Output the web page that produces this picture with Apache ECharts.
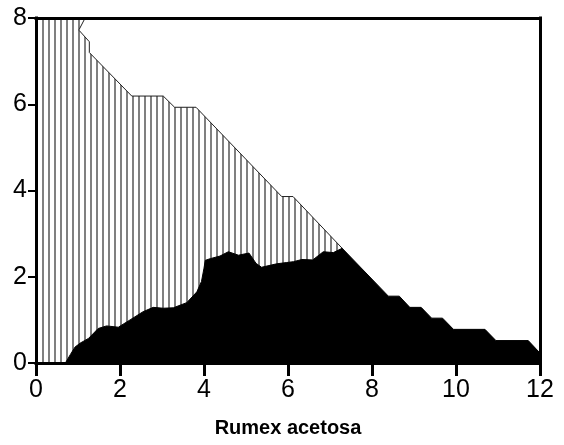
<!DOCTYPE html>
<html>
<head>
<meta charset="utf-8">
<script src="https://cdn.jsdelivr.net/npm/echarts@6/dist/echarts.min.js"></script>
<style>
  html, body { margin: 0; padding: 0; background: #fff; }
  #chart { width: 564px; height: 445px; }
</style>
</head>
<body>
<div id="chart"></div>
<script>
// Axis ranges and tick steps
const xRange = [0, 12];
const xStep = 2;
const yRange = [0, 8];
const yStep = 2;
const xTitle = 'Rumex acetosa';

// Upper boundary of the hatched band (x, y)
const hatchX = [0, 1.17, 1.02, 1.27, 1.27, 2.28, 3.03, 3.30, 3.81, 5.85, 6.12, 7.29];
const hatchY = [8, 8, 7.72, 7.45, 7.20, 6.19, 6.19, 5.93, 5.93, 3.86, 3.86, 2.66];

// Solid (black) profile (x, y)
const rumexX = [0, 0.70, 0.82, 0.93, 1.05, 1.25, 1.48, 1.68, 1.96, 2.24, 2.55, 2.79, 3.03, 3.27,
  3.59, 3.83, 3.94, 4.00, 4.03, 4.15, 4.38, 4.58, 4.82, 5.07, 5.24, 5.37, 5.73, 5.97, 6.13,
  6.33, 6.59, 6.84, 7.08, 7.29, 8.39, 8.65, 8.90, 9.17, 9.42, 9.68, 9.94, 10.69, 10.95,
  11.72, 12];
const rumexY = [0, 0, 0.20, 0.37, 0.46, 0.57, 0.80, 0.86, 0.83, 1.00, 1.19, 1.29, 1.27, 1.28,
  1.40, 1.65, 1.89, 2.20, 2.38, 2.42, 2.48, 2.58, 2.50, 2.55, 2.31, 2.22, 2.30, 2.33, 2.35,
  2.40, 2.39, 2.58, 2.56, 2.66, 1.55, 1.55, 1.29, 1.29, 1.04, 1.04, 0.78, 0.78, 0.52,
  0.52, 0.23];

// Vertical-line hatch tile: 2px grey stripe every 6px
const tile = document.createElement('canvas');
tile.width = 6; tile.height = 6;
const g = tile.getContext('2d');
g.fillStyle = '#ffffff';
g.fillRect(0, 0, 6, 6);
g.fillStyle = '#808080';
g.fillRect(0, 0, 2, 6);

const font = 'Liberation Sans, Arial, sans-serif';

const frameAxis = {
  axisLine: { show: true, onZero: false, lineStyle: { color: '#000', width: 3, cap: 'square' } },
  axisTick: { show: false },
  axisLabel: { show: false },
  splitLine: { show: false },
  z: 10
};

const chart = echarts.init(document.getElementById('chart'), null, { renderer: 'canvas' });
chart.setOption({
  animation: false,
  backgroundColor: '#fff',
  grid: { left: 36, right: 24, top: 18, bottom: 82, containLabel: false },
  xAxis: [{
    type: 'value', min: xRange[0], max: xRange[1], interval: xStep, position: 'bottom',
    axisLine: { show: true, onZero: false, lineStyle: { color: '#000', width: 3, cap: 'square' } },
    axisTick: { show: true, length: 13, lineStyle: { color: '#000', width: 3 } },
    axisLabel: { color: '#000', fontSize: 25, fontFamily: font, margin: 15 },
    splitLine: { show: false },
    name: xTitle, nameLocation: 'middle', nameGap: 55,
    nameTextStyle: { color: '#000', fontSize: 20, fontWeight: 'bold', fontFamily: font },
    z: 10
  }, Object.assign({ type: 'value', min: xRange[0], max: xRange[1], position: 'top' }, frameAxis)],
  yAxis: [{
    type: 'value', min: yRange[0], max: yRange[1], interval: yStep, position: 'left',
    axisLine: { show: true, onZero: false, lineStyle: { color: '#000', width: 3, cap: 'square' } },
    axisTick: { show: true, length: 8, lineStyle: { color: '#000', width: 2 } },
    axisLabel: { color: '#000', fontSize: 25, fontFamily: font, margin: 9 },
    splitLine: { show: false },
    z: 10
  }, Object.assign({ type: 'value', min: yRange[0], max: yRange[1], position: 'right' }, frameAxis)],
  series: [{
    type: 'custom',
    xAxisIndex: 0, yAxisIndex: 0,
    z: 2,
    data: [[0, 0]],
    renderItem: function (params, api) {
      const pts = hatchX.map(function (x, i) { return api.coord([x, hatchY[i]]); });
      pts.push(api.coord([hatchX[hatchX.length - 1], 0]));
      pts.push(api.coord([0, 0]));
      return {
        type: 'polygon',
        shape: { points: pts },
        style: { fill: { image: tile, repeat: 'repeat' }, stroke: '#222', lineWidth: 1 }
      };
    }
  }, {
    type: 'line',
    xAxisIndex: 0, yAxisIndex: 0,
    z: 3,
    showSymbol: false,
    symbol: 'none',
    lineStyle: { color: '#000', width: 1 },
    areaStyle: { color: '#000', opacity: 1 },
    data: rumexX.map(function (x, i) { return [x, rumexY[i]]; })
  }]
});
</script>
</body>
</html>
